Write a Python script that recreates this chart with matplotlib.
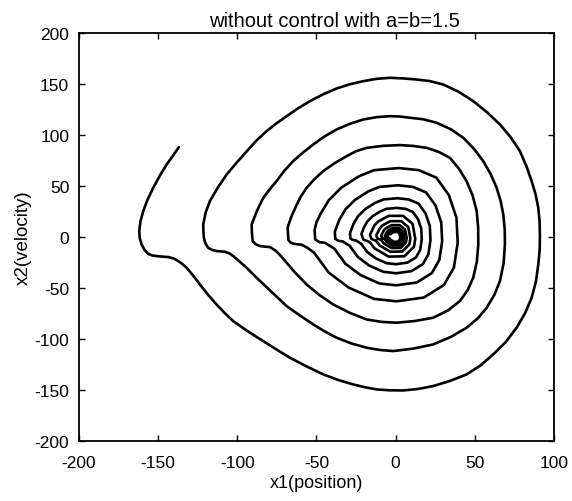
import numpy as np
import matplotlib
matplotlib.use("Agg")
import matplotlib.pyplot as plt

plt.rcParams["font.family"] = ["Liberation Sans", "DejaVu Sans"]
plt.rcParams["axes.unicode_minus"] = False

# Phase trajectory x1 (position) vs x2 (velocity), listed turn by turn
# from the outer end of the trajectory inwards.
lead_x1 = [-136.9, -140.5, -144.6, -149.0, -153.1, -156.6, -159.4, -161.2, -161.9]
lead_x2 = [88.2, 80.0, 71.2, 60.0, 48.3, 37.0, 25.5, 15.0, 5.9]

turn1_x1 = [-161.6, -160.4, -158.6, -156.3, -153.8, -150.9, -147.2, -143.6, -140.2, -137.3,
            -134.6, -132.0, -128.0, -123.6, -118.5, -113.1, -107.9, -102.6, -93.0, -83.6,
            -75.0, -66.8, -56.0, -45.7, -36.0, -26.8, -19.0, -12.0, -3.5, 4.8, 14.5, 23.7,
            34.5, 44.8, 53.5, 61.6, 69.5, 76.4, 81.8, 85.9, 88.6, 90.1, 91.0, 91.1, 90.9,
            90.1, 88.4, 85.9, 82.6, 78.5, 72.6, 65.9, 57.8, 49.0, 39.8, 30.1, 21.5, 13.3,
            4.8, -3.6, -12.0, -20.5, -29.0, -37.3, -45.8, -54.1, -61.6, -68.8, -75.3, -81.5,
            -88.0, -94.1, -100.5, -106.7, -112.3, -117.3, -120.0]
turn1_x2 = [-1.0, -7.3, -12.5, -16.4, -18.0, -18.6, -19.2, -19.6, -21.0, -23.5,
            -26.5, -30.1, -37.5, -46.5, -56.5, -66.1, -74.6, -82.4, -92.8, -102.0,
            -110.5, -118.3, -127.0, -134.7, -140.3, -144.5, -147.4, -149.4, -150.3, -150.4,
            -148.9, -146.1, -141.0, -134.7, -126.0, -115.1, -103.0, -88.9, -74.5, -59.5,
            -43.5, -26.9, -12.0, 2.5, 15.5, 28.7, 41.8, 54.9, 69.5, 84.3, 98.0, 110.4,
            122.3, 133.3, 142.5, 149.6, 153.0, 154.5, 155.6, 156.2, 155.2, 152.9, 149.8,
            145.7, 140.0, 133.3, 126.3, 118.6, 111.5, 103.9, 94.5, 84.0, 72.8, 61.4, 48.5,
            35.3, 24.0]

turn2_x1 = [-121.5, -121.4, -121.1, -120.2, -118.4, -116.0, -113.1, -110.4, -107.8, -105.0,
            -102.6, -98.4, -94.1, -87.8, -78.5, -69.0, -60.5, -52.0, -44.8, -37.3, -28.0,
            -18.3, -10.0, -1.5, 11.0, 23.7, 35.0, 44.8, 52.0, 57.5, 62.4, 65.9, 68.2, 69.0,
            68.9, 68.0, 66.3, 63.8, 60.0, 55.3, 49.5, 42.7, 34.8, 25.9, 17.5, 9.0, 2.7,
            -3.6, -12.0, -20.5, -29.2, -37.3, -45.0, -52.0, -58.6, -64.7, -70.3, -75.2,
            -79.6, -83.6, -87.5]
turn2_x2 = [12.4, 5.8, -0.7, -6.0, -10.5, -12.6, -13.7, -14.1, -14.4, -16.0,
            -18.6, -24.2, -30.1, -39.9, -53.5, -67.5, -76.8, -85.7, -92.5, -98.7, -104.3,
            -108.5, -110.7, -111.8, -109.4, -105.3, -97.8, -88.9, -79.5, -69.3, -56.5, -43.1,
            -25.5, -7.3, 7.5, 22.2, 35.5, 48.3, 61.8, 74.5, 86.5, 97.4, 105.8, 112.1,
            115.5, 117.0, 118.2, 118.6, 117.6, 115.3, 110.9, 105.5, 98.6, 90.8, 82.8, 74.5,
            65.0, 54.9, 46.6, 38.5, 26.0]

turn3_x1 = [-90.9, -90.8, -90.3, -88.4, -85.7, -82.5, -79.4, -75.6, -71.5, -64.0, -56.2,
            -48.0, -39.4, -29.0, -18.3, -8.8, 0.6, 12.2, 23.7, 33.0, 40.6, 45.5, 49.0, 51.3,
            52.2, 52.1, 51.2, 48.6, 44.8, 40.0, 34.3, 27.3, 19.6, 11.0, 2.7, -7.8, -18.3,
            -25.0, -30.9, -38.5, -45.7, -51.3, -56.2, -60.0, -63.0, -66.0]
turn3_x2 = [12.4, 4.5, -3.9, -7.0, -8.8, -9.4, -9.8, -13.5, -20.3, -34.0, -46.5,
            -57.0, -66.1, -74.3, -80.8, -83.2, -84.0, -82.3, -79.1, -72.0, -62.7, -52.0,
            -39.9, -24.0, -7.3, 9.5, 25.5, 40.8, 54.9, 67.0, 77.7, 83.5, 87.5, 89.4, 90.2,
            89.5, 87.5, 84.2, 79.4, 72.5, 64.7, 56.8, 48.3, 39.5, 30.0, 19.5]

turn4_x1 = [-68.2, -67.7, -66.3, -64.3, -62.0, -59.5, -55.8, -51.6, -42.2, -29.6, -13.7,
            0.5, 17.8, 30.5, 36.8, 39.2, 38.4, 33.6, 25.7, 14.7, 2.0, -13.7, -23.2, -34.3,
            -42.2, -47.5, -50.0]
turn4_x2 = [9.3, -2.9, -5.5, -6.6, -7.1, -7.4, -10.4, -15.2, -34.9, -49.6, -60.6,
            -63.0, -59.3, -47.0, -29.9, -5.5, 19.1, 41.2, 58.3, 65.6, 67.7, 65.6, 59.6, 48.5,
            36.2, 22.5, 14.5]

turn5_x1 = [-51.2, -50.8, -48.2, -44.6, -38.7, -31.7, -22.2, -10.3, 0.4, 13.4, 22.9, 27.6,
            29.4, 28.8, 25.2, 19.3, 11.0, 1.5, -10.3, -17.4, -25.7, -31.7, -35.6]
turn5_x2 = [7.0, -2.2, -5.0, -5.6, -11.4, -26.2, -37.2, -45.5, -47.3, -44.5, -35.3, -22.4,
            -4.1, 14.3, 30.9, 43.7, 49.2, 50.8, 49.2, 44.7, 36.4, 27.2, 16.9]

turn6_x1 = [-38.4, -38.1, -36.2, -33.5, -29.0, -23.8, -16.7, -7.7, 0.3, 10.0, 17.2, 20.7,
            22.0, 21.6, 18.9, 14.5, 8.3, 1.1, -7.7, -13.0, -19.3, -23.8, -26.7]
turn6_x2 = [5.2, -1.7, -3.7, -4.2, -8.6, -19.6, -27.9, -34.1, -35.5, -33.4, -26.5, -16.8,
            -3.1, 10.8, 23.2, 32.8, 36.9, 38.1, 36.9, 33.5, 27.3, 20.4, 12.7]

turn7_x1 = [-28.8, -28.6, -27.2, -25.1, -21.8, -17.9, -12.5, -5.8, 0.2, 7.5, 12.9, 15.5,
            16.5, 16.2, 14.2, 10.9, 6.2, 0.8, -5.8, -9.8, -14.5, -17.9, -20.0]
turn7_x2 = [3.9, -1.3, -2.8, -3.2, -6.5, -14.7, -20.9, -25.6, -26.6, -25.0, -19.9, -12.6,
            -2.3, 8.1, 17.4, 24.6, 27.7, 28.6, 27.7, 25.1, 20.5, 15.3, 9.5]

turn8_x1 = [-21.6, -20.4, -16.4, -13.4, -4.4, 5.6, 11.6, 12.4, 10.7, 4.7, -4.4, -10.9, -13.4]
turn8_x2 = [2.9, -2.4, -4.9, -11.0, -19.2, -18.8, -9.5, -1.7, 13.0, 20.8, 20.8, 15.4, 11.5]

turn9_x1 = [-16.2, -15.3, -12.3, -10.0, -3.3, 4.2, 8.7, 9.3, 8.0, 3.5, -3.3, -8.2, -10.0]
turn9_x2 = [2.2, -1.8, -3.7, -8.3, -14.4, -14.1, -7.1, -1.3, 9.8, 15.6, 15.6, 11.6, 8.6]

turn10_x1 = [-12.2, -11.5, -9.2, -7.5, -2.5, 3.2, 6.5, 7.0, 6.0, 2.6, -2.5, -6.1, -7.5]
turn10_x2 = [1.7, -1.4, -2.8, -6.2, -10.8, -10.6, -5.3, -1.0, 7.3, 11.7, 11.7, 8.7, 6.5]

turn11_x1 = [-9.1, -8.6, -6.9, -5.6, -1.9, 2.4, 4.9, 5.2, 4.5, 2.0, -1.9, -4.6, -5.6]
turn11_x2 = [1.3, -1.0, -2.1, -4.7, -8.1, -8.0, -4.0, -0.7, 5.5, 8.8, 8.8, 6.5, 4.9]

turn12_x1 = [-6.8, -6.5, -5.2, -4.2, -1.4, 1.8, 3.7, 3.9, 3.4, 1.5, -1.4, -3.4, -4.2]
turn12_x2 = [1.0, -0.8, -1.6, -3.5, -6.1, -6.0, -3.0, -0.6, 4.1, 6.6, 6.6, 4.9, 3.7]

turn13_x1 = [-5.1, -4.9, -3.9, -3.2, -1.1, 1.4, 2.8, 2.9, 2.6, 1.1, -1.1, -2.6, -3.2]
turn13_x2 = [0.8, -0.6, -1.2, -2.6, -4.6, -4.5, -2.3, -0.5, 3.1, 5.0, 5.0, 3.7, 2.8]

turns_x1 = [lead_x1, turn1_x1, turn2_x1, turn3_x1, turn4_x1, turn5_x1, turn6_x1, turn7_x1,
            turn8_x1, turn9_x1, turn10_x1, turn11_x1, turn12_x1, turn13_x1]
turns_x2 = [lead_x2, turn1_x2, turn2_x2, turn3_x2, turn4_x2, turn5_x2, turn6_x2, turn7_x2,
            turn8_x2, turn9_x2, turn10_x2, turn11_x2, turn12_x2, turn13_x2]

x1 = np.concatenate([np.asarray(t, float) for t in turns_x1])
x2 = np.concatenate([np.asarray(t, float) for t in turns_x2])

xticks = [-200, -150, -100, -50, 0, 50, 100]
yticks = [-200, -150, -100, -50, 0, 50, 100, 150, 200]

fig = plt.figure(figsize=(5.72, 5.02), dpi=100)
ax = fig.add_axes([0.138, 0.1195, 0.8305, 0.8125])

ax.plot(x1, x2, color="black", linewidth=1.9, solid_joinstyle="round",
        solid_capstyle="round")

ax.set_xlim(-200, 100)
ax.set_ylim(-200, 200)
ax.set_xticks(xticks)
ax.set_yticks(yticks)
ax.tick_params(direction="in", length=4, width=1.0, top=True, right=True,
               labelsize=12.5, colors="black")
ax.tick_params(axis="x", pad=10)
ax.tick_params(axis="y", pad=7)
for s in ax.spines.values():
    s.set_linewidth(1.3)
    s.set_color("black")

ax.set_title("without control with a=b=1.5", fontsize=14.5, pad=5, x=0.537)
ax.set_xlabel("x1(position)", fontsize=13, labelpad=3)
ax.set_ylabel("x2(velocity)", fontsize=13.5, labelpad=2)

fig.savefig("out.png", dpi=100)
